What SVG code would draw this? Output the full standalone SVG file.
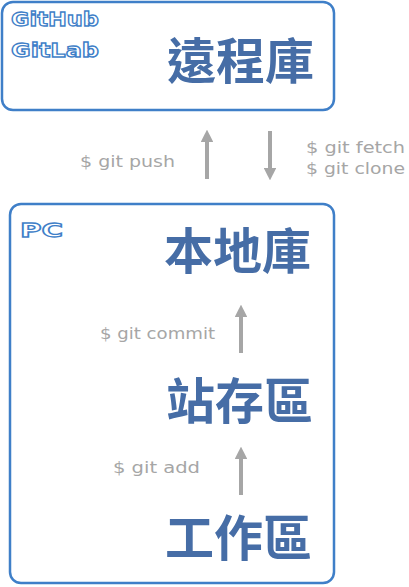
<svg xmlns="http://www.w3.org/2000/svg" width="409" height="587" viewBox="0 0 409 587">
<style>
.box{fill:#fff;stroke:#3f7fc8;stroke-width:2.5}
.out{font-family:"DejaVu Sans",sans-serif;font-weight:bold;font-size:20px;fill:#fff;stroke:#3f7fc8;stroke-width:1.3}
.big{font-family:"Noto Sans CJK TC","Noto Sans CJK SC",sans-serif;font-weight:bold;font-size:49px;fill:#466da6}
.cmd{font-family:"DejaVu Sans",sans-serif;font-size:16px;fill:#a6a6a6}
.arr{stroke:#a6a6a6;stroke-width:4;fill:none;marker-end:url(#ah)}
</style>
<defs>
<marker id="ah" viewBox="0 0 10 10" refX="5" refY="5" markerWidth="3.2" markerHeight="3.2" orient="auto" markerUnits="strokeWidth">
<path d="M0,0 L10,5 L0,10 z" fill="#a6a6a6"/>
</marker>
</defs>
<rect width="409" height="587" fill="#fff"/>
<g id="remote">
<rect class="box" x="2" y="2" width="332" height="108" rx="11"/>
<text class="out" x="11" y="26" textLength="88" lengthAdjust="spacingAndGlyphs">GitHub</text>
<text class="out" x="11" y="57" textLength="88" lengthAdjust="spacingAndGlyphs">GitLab</text>
<text class="big" x="167" y="79">遠程庫</text>
</g>
<g id="pc">
<rect class="box" x="10" y="204" width="324" height="379" rx="11"/>
<text class="out" x="20" y="237" textLength="43" lengthAdjust="spacingAndGlyphs">PC</text>
</g>
<g id="local"><text class="big" x="164" y="269">本地庫</text></g>
<g id="stage"><text class="big" x="166" y="419">站存區</text></g>
<g id="work"><text class="big" x="165" y="556">工作區</text></g>
<g id="connectors">
<line class="arr" x1="207" y1="179" x2="207" y2="136"/>
<line class="arr" x1="270" y1="131" x2="270" y2="174"/>
<line class="arr" x1="241" y1="353" x2="241" y2="311"/>
<line class="arr" x1="241" y1="495" x2="241" y2="453"/>
<text class="cmd" x="80" y="167" textLength="95" lengthAdjust="spacingAndGlyphs">$ git push</text>
<text class="cmd" x="306" y="153" textLength="99" lengthAdjust="spacingAndGlyphs">$ git fetch</text>
<text class="cmd" x="306" y="174" textLength="99" lengthAdjust="spacingAndGlyphs">$ git clone</text>
<text class="cmd" x="100" y="339" textLength="115" lengthAdjust="spacingAndGlyphs">$ git commit</text>
<text class="cmd" x="113" y="473" textLength="87" lengthAdjust="spacingAndGlyphs">$ git add</text>
</g>
</svg>
